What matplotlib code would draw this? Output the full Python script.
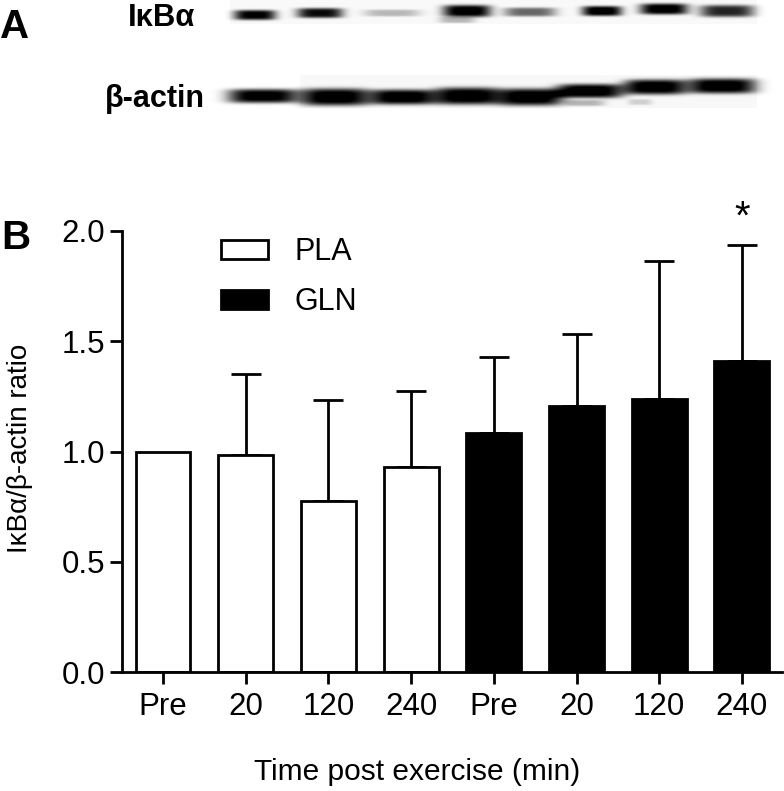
import numpy as np
import matplotlib
matplotlib.use("Agg")
import matplotlib.pyplot as plt
from matplotlib.patches import Patch

W, H = 784, 791
categories = ["Pre", "20", "120", "240", "Pre", "20", "120", "240"]
groups = ["PLA", "PLA", "PLA", "PLA", "GLN", "GLN", "GLN", "GLN"]
means = [1.0, 0.985, 0.775, 0.93, 1.085, 1.205, 1.24, 1.41]
errors = [0.0, 0.365, 0.46, 0.345, 0.345, 0.33, 0.625, 0.525]
yticks = [0.0, 0.5, 1.0, 1.5, 2.0]

# blot bands: centre x, centre y, half-width, half-height, darkness (pixels of the figure)
ikba_x = [255, 320, 392, 467, 530, 602, 664, 727, 457]
ikba_y = [15, 13, 13, 11, 12, 11, 9, 11, 20]
ikba_w = [21, 23, 28, 24, 26, 20, 24, 27, 18]
ikba_h = [5.0, 5.0, 3.5, 6.0, 4.5, 5.0, 5.5, 6.0, 3.0]
ikba_d = [0.95, 0.9, 0.25, 1.0, 0.55, 1.0, 1.0, 0.8, 0.25]
actin_x = [263, 335, 403, 467, 530, 590, 655, 722, 585, 640]
actin_y = [96, 97, 97, 96, 97, 91, 87, 86, 103, 102]
actin_w = [35, 34, 33, 32, 33, 33, 31, 34, 20, 12]
actin_h = [7, 8.5, 7.5, 8.5, 8.5, 7, 7.5, 7.5, 3, 3]
actin_d = [1.0, 1.0, 1.0, 1.0, 1.0, 1.0, 1.0, 1.0, 0.25, 0.15]

plt.rcParams["font.family"] = ["Liberation Sans", "DejaVu Sans"]
fig = plt.figure(figsize=(W / 100, H / 100), dpi=100)

# blot image panel, in pixel coordinates
bg = fig.add_axes([0, 0, 1, 1])
bg.set_xlim(0, W); bg.set_ylim(H, 0); bg.axis("off")
xx, yy = np.meshgrid(np.arange(W) + .5, np.arange(160) + .5)
img = np.ones_like(xx)
img[(xx > 230) & (xx < 757) & (yy < 24)] = 0.975
img[(xx > 300) & (xx < 757) & (yy > 75) & (yy < 108)] = 0.97
def band(cx, cy, w, h, d):
    return d * np.exp(-(np.abs(xx - cx) / w) ** 4 - (np.abs(yy - cy) / h) ** 4)
for vals in (zip(ikba_x, ikba_y, ikba_w, ikba_h, ikba_d),
             zip(actin_x, actin_y, actin_w, actin_h, actin_d)):
    for v in vals:
        img = img - 1.05 * band(*v)
img = np.clip(img, 0, 1)
bg.imshow(img, cmap="gray", vmin=0, vmax=1, extent=(0, W, 160, 0), aspect="auto", interpolation="bilinear")
bg.set_xlim(0, W); bg.set_ylim(H, 0)

bold = dict(fontweight="bold", color="black", va="center")
bg.text(0, 27, "A", fontsize=29, ha="left", **bold)
bg.text(1, 238, "B", fontsize=29, ha="left", **bold)
bg.text(128, 18, "IκBα", fontsize=22.3, ha="left", **bold)
bg.text(105, 99, "β-actin", fontsize=22, ha="left", **bold)

# bar chart axes
left, right, top, bottom = 122, 782, 231, 672
ax = fig.add_axes([left / W, 1 - bottom / H, (right - left) / W, (bottom - top) / H])
ax.patch.set_alpha(0)
spacing = 82.7
x = np.arange(len(means))
ax.set_xlim((left - 163) / spacing, (right - 163) / spacing)
ax.set_ylim(0, 2.0)
for xi, m, e, g in zip(x, means, errors, groups):
    fc = "white" if g == "PLA" else "black"
    ax.bar(xi, m, width=0.665, facecolor=fc, edgecolor="black", linewidth=2.0, zorder=2)
    if e > 0:
        ax.errorbar(xi, m, yerr=[[0], [e]], color="black", elinewidth=2.0, capsize=10.5,
                    capthick=2.0, zorder=1, fmt="none")
ax.text(x[-1], 2.06, "*", ha="center", va="center", fontsize=29, color="black", clip_on=False)

for s in ("top", "right"):
    ax.spines[s].set_visible(False)
for s in ("left", "bottom"):
    ax.spines[s].set_linewidth(2.0)
ax.set_xticks(x, categories)
ax.set_yticks(yticks, [f"{t:.1f}" for t in yticks])
ax.tick_params(axis="both", length=8.5, width=2.0, labelsize=22.5)
ax.tick_params(axis="y", pad=3.5)
ax.tick_params(axis="x", pad=5.7)
ax.set_ylabel("IκBα/β-actin ratio", fontsize=20)
ax.set_xlabel("Time post exercise (min)", fontsize=21.5)
ax.xaxis.set_label_coords((417 - left) / (right - left), -(758 - 672) / (672 - 231))
ax.yaxis.set_label_coords(-(122 - 33) / (right - left), (672 - 448) / (672 - 231))

handles = [Patch(facecolor="white", edgecolor="black", linewidth=2.0, label="PLA"),
           Patch(facecolor="black", edgecolor="black", linewidth=2.0, label="GLN")]
ax.legend(handles=handles, loc="upper left", bbox_to_anchor=((218 - left) / (right - left), 0.993),
          frameon=False, fontsize=22, handlelength=1.55, handleheight=0.55,
          labelspacing=0.66, handletextpad=0.85, borderpad=0.1, borderaxespad=0)

fig.savefig("out.png", dpi=100)
